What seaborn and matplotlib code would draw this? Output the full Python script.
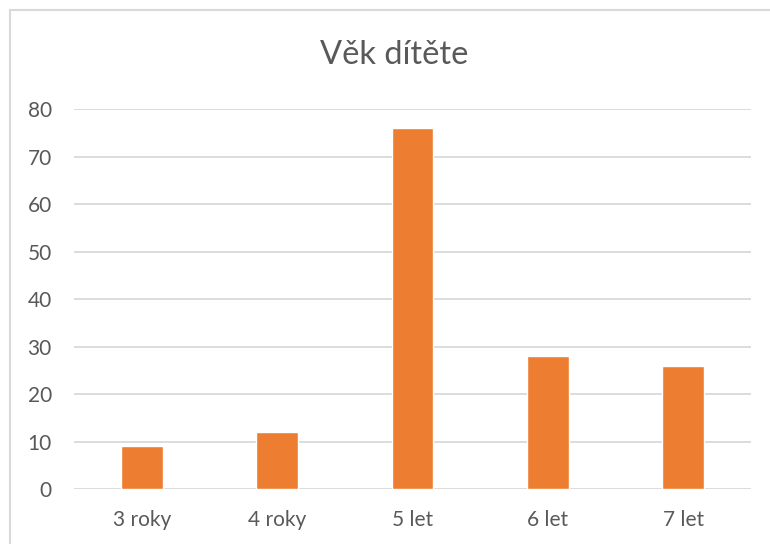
import pandas as pd
import seaborn as sns
import matplotlib.pyplot as plt
from matplotlib.patches import Rectangle

# Datos del grafico
kategorie = ['3 roky', '4 roky', '5 let', '6 let', '7 let']
pocty = [9, 12, 76, 28, 26]

df = pd.DataFrame({'vek': kategorie, 'pocet': pocty})

sns.set_style('white')
plt.rcParams['font.family'] = ['Lato', 'DejaVu Sans']

fig = plt.figure(figsize=(7.7, 5.44), dpi=100)
ax = fig.add_axes([0.0961, 0.1011, 0.8792, 0.6985])

sns.barplot(data=df, x='vek', y='pocet', color='#ED7D31', width=0.31,
            saturation=1, ax=ax)

# Estilo tipo Excel
ax.set_ylim(0, 80)
ax.set_xlim(-0.5, 4.5)
ax.set_yticks(range(0, 81, 10))
ax.yaxis.grid(True, color='#D9D9D9', linewidth=1.3)
ax.set_axisbelow(True)
for s in ax.spines.values():
    s.set_visible(False)
ax.tick_params(axis='both', length=0, labelsize=15, labelcolor='#595959')
ax.tick_params(axis='y', pad=16)
ax.tick_params(axis='x', pad=15)
ax.set_xlabel('')
ax.set_ylabel('')

fig.text(0.512, 0.898, 'Věk dítěte', ha='center', va='center',
         fontsize=23.5, color='#595959')

# Marco del grafico
fig.patches.append(Rectangle((10 / 770, -0.1), 1.2, 1 - 10 / 544 + 0.1,
                             transform=fig.transFigure, fill=False,
                             edgecolor='#D9D9D9', linewidth=1.5))

fig.savefig('out.png', dpi=100)
